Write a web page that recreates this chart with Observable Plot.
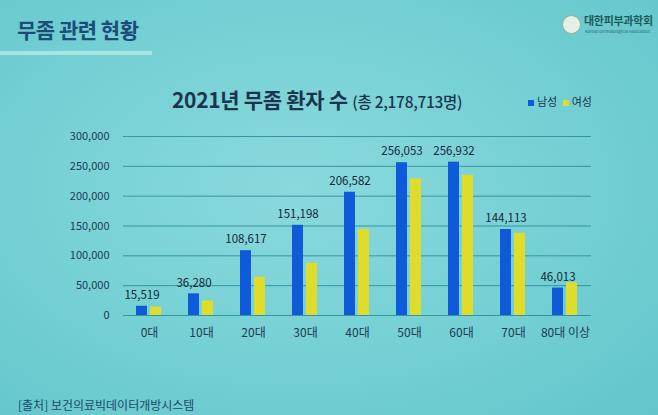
<!DOCTYPE html>
<html><head><meta charset="utf-8">
<script src="https://cdn.jsdelivr.net/npm/d3@7"></script>
<script src="https://cdn.jsdelivr.net/npm/@observablehq/plot@0.6"></script>
<style>
html,body{margin:0;padding:0;}
body{width:658px;height:415px;overflow:hidden;position:relative;
 background:radial-gradient(ellipse at 45% 45%, #8ad9dc 0%, #74d0d4 55%, #62c6cb 100%);
 font-family:"Noto Sans CJK KR","Noto Sans",sans-serif;color:#17324a;}
.abs{position:absolute;white-space:nowrap;}
#chart{position:absolute;left:0;top:115px;}
</style></head>
<body>
<div class="abs" style="left:17px;top:14px;font-size:21px;font-weight:700;color:#1c4d78;letter-spacing:-0.5px;">무좀 관련 현황</div>
<div class="abs" style="left:0;top:51px;width:152px;height:4px;background:#a8e3e5;"></div>
<div class="abs" style="left:562px;top:15px;width:17px;height:17px;border-radius:50%;background:#e6efe6;border:1px solid #8fb39a;"></div>
<div class="abs" style="left:584px;top:12px;font-size:11px;font-weight:700;color:#1f5a5a;letter-spacing:-0.3px;">대한피부과학회</div>
<div class="abs" style="left:585px;top:28px;font-size:8px;color:#2f6a6a;transform:scale(0.5);transform-origin:0 0;">Korean Dermatological Association</div>
<div class="abs" style="left:172px;top:84px;font-size:21px;font-weight:700;color:#1b3550;letter-spacing:-0.3px;">2021년 무좀 환자 수 <span style="font-size:15.5px;font-weight:500;">(총 2,178,713명)</span></div>
<div class="abs" style="left:528px;top:93px;font-size:11px;color:#1b3550;"><span style="display:inline-block;width:6px;height:6px;background:#0f5ad8;margin-right:3px;"></span>남성 <span style="display:inline-block;width:6px;height:6px;background:#e0dc2c;margin:0 3px 0 3px;"></span>여성</div>
<div class="abs" style="left:18px;top:396px;font-size:12px;color:#1d4a6a;">[출처] 보건의료빅데이터개방시스템</div>
<div id="chart"></div>
<script>
const ages = ["0대","10대","20대","30대","40대","50대","60대","70대","80대 이상"];
const male = [15519, 36280, 108617, 151198, 206582, 256053, 256932, 144113, 46013];
const female = [14000, 24500, 64000, 87500, 144000, 229000, 235000, 138000, 55000];
const sexes = ["남성","여성"];
const yTicks = [0, 50000, 100000, 150000, 200000, 250000, 300000];

const data = [];
ages.forEach((a,i)=>{
  data.push({age:a, sex:"남성", value:male[i]});
  data.push({age:a, sex:"여성", value:female[i]});
});
const fmt = d3.format(",");

const chart = Plot.plot({
  width: 658,
  height: 240,
  marginLeft: 122,
  marginRight: 67,
  marginTop: 21,
  marginBottom: 40,
  style: {background:"transparent", fontFamily:'"Noto Sans CJK KR", sans-serif', color:"#17324a"},
  fx: {domain: ages, padding: 0, label: null, axis: null},
  x: {domain: sexes, paddingInner: 0.2, paddingOuter: 0.84, axis: null},
  y: {domain: [0, 300000], axis: null},
  color: {domain: sexes, range: ["#0f5ad8", "#e0dc2c"]},
  marks: [
    Plot.ruleY(yTicks, {stroke: "#2e8e9c", strokeWidth: 1, strokeOpacity: 0.9}),
    Plot.barY(data, {fx: "age", x: "sex", y: "value", fill: "sex"}),
    Plot.text(data.filter(d => d.sex === "남성"), {fx: "age", x: "sex", y: "value", text: d => fmt(d.value), dy: -11, fontSize: 11.5, fill: "#13263a", letterSpacing: "-0.6px"}),
    Plot.axisY({ticks: yTicks, tickSize: 0, tickPadding: 14, tickFormat: fmt, label: null, fontSize: 11, fill: "#1d3a55", letterSpacing: "-0.5px"}),
    Plot.axisFx({anchor: "bottom", tickSize: 0, tickPadding: 13, fontSize: 12, fill: "#1d3a55", label: null, letterSpacing: "-0.5px"})
  ]
});
document.getElementById("chart").appendChild(chart);
</script>
</body></html>
